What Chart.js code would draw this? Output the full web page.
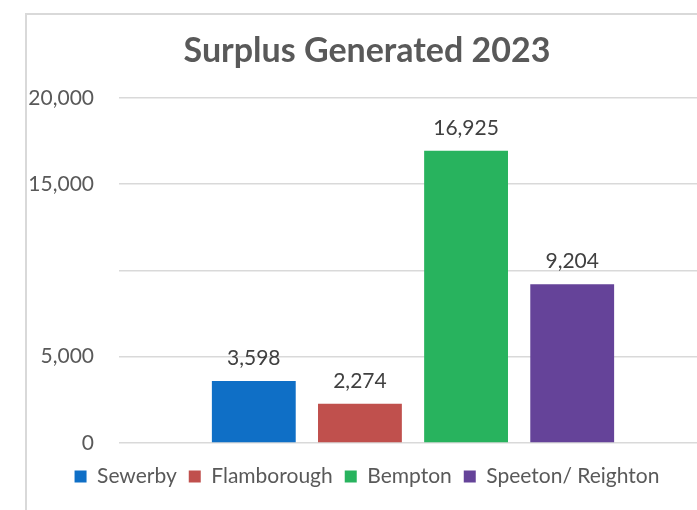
<!DOCTYPE html>
<html><head><meta charset="utf-8"><title>Surplus Generated 2023</title>
<script src="https://cdn.jsdelivr.net/npm/chart.js"></script>
<style>
body { margin: 0; background: #fff; overflow: hidden; }
#frame { position: absolute; left: 25px; top: 13px; width: 680px; height: 497px;
  border-left: 2px solid #d9d9d9; border-top: 2px solid #d9d9d9; }
</style></head>
<body>
<div id="frame"><canvas id="surplusChart" width="680" height="497"></canvas></div>
<script>
const groups = ['Sewerby', 'Flamborough', 'Bempton', 'Speeton/ Reighton'];
const surplus = [3598, 2274, 16925, 9204];
const barColors = ['#0F6FC6', '#C0504D', '#28B35E', '#654399'];
const yTicks = [0, 5000, 10000, 15000, 20000];
const hiddenTicks = [10000];

const fmt = v => v.toLocaleString('en-US');

// value labels above each bar
const barLabels = {
  id: 'barLabels',
  afterDatasetsDraw(chart) {
    const ctx = chart.ctx;
    ctx.save();
    ctx.font = '21px Lato';
    ctx.fillStyle = '#404040';
    ctx.textAlign = 'center';
    ctx.textBaseline = 'middle';
    chart.data.datasets.forEach((ds, i) => {
      const bar = chart.getDatasetMeta(i).data[0];
      ctx.fillText(fmt(ds.data[0]), bar.x, bar.y - 23);
    });
    ctx.restore();
  }
};

new Chart(document.getElementById('surplusChart'), {
  type: 'bar',
  data: {
    labels: [''],
    datasets: groups.map((g, i) => ({
      label: g,
      data: [surplus[i]],
      backgroundColor: barColors[i],
      categoryPercentage: 0.722,
      barPercentage: 0.79
    }))
  },
  options: {
    responsive: false,
    animation: false,
    layout: { padding: { left: 0, right: 0, top: 0, bottom: 15 } },
    plugins: {
      title: {
        display: true,
        text: 'Surplus Generated 2023',
        color: '#595959',
        font: { family: 'Lato', size: 34, weight: 'bold' },
        padding: { top: 16, bottom: 26 }
      },
      legend: {
        position: 'bottom',
        labels: {
          color: '#595959',
          font: { family: 'Lato', size: 21 },
          boxWidth: 12, boxHeight: 12, padding: 12
        }
      },
      tooltip: { enabled: false }
    },
    scales: {
      x: {
        display: true,
        grid: { display: false },
        border: { display: false },
        ticks: { display: false },
        afterFit: s => { s.height = 11; }
      },
      y: {
        min: 0, max: 20000,
        afterBuildTicks: s => { s.ticks = yTicks.map(v => ({ value: v })); },
        afterFit: s => { s.width = 92; },
        border: { display: false },
        grid: { color: '#d9d9d9', lineWidth: 1.5, drawTicks: false },
        ticks: {
          padding: 25,
          color: '#595959',
          font: { family: 'Lato', size: 21 },
          callback: v => hiddenTicks.includes(v) ? '' : fmt(v)
        }
      }
    }
  },
  plugins: [barLabels]
});
</script></body></html>
